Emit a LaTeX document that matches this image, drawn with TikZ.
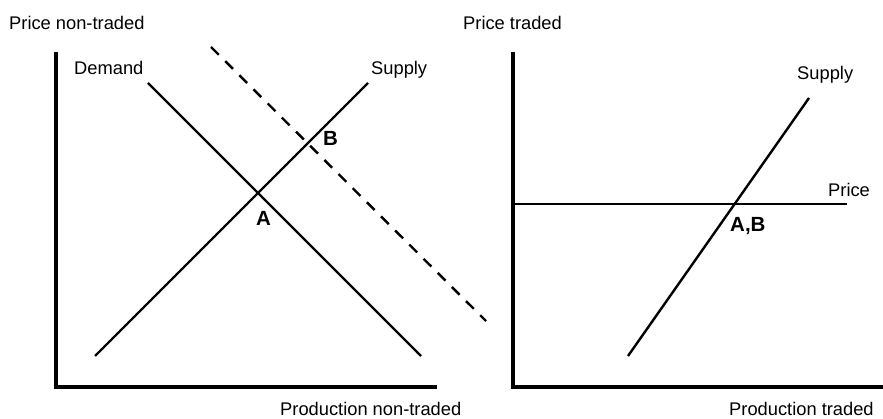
\documentclass[tikz,border=0pt]{standalone}
\usepackage{fontspec}
\setmainfont{Liberation Sans}
\usetikzlibrary{positioning, calc}

\begin{document}
\begin{tikzpicture}[x=1pt, y=-1pt,
  axisline/.style={line width=3.2pt},
  curve/.style={line width=2.4pt},
  shifted/.style={line width=2.4pt, dash pattern=on 11pt off 9pt},
  lbl/.style={font=\fontsize{18.3}{22}\selectfont, inner sep=0pt, anchor=base west},
  eq/.style={font=\fontsize{20.5}{24}\selectfont\bfseries, inner sep=0pt, anchor=base west}]
  \useasboundingbox (0,0) rectangle (883,419);

  % non-traded market
  \coordinate (ntop) at (56,52);
  \coordinate (norig) at (56,387);
  \coordinate (nend) at (437,387);
  \coordinate (dem1) at (148,83);
  \coordinate (dem2) at (421,356);
  \coordinate (sup1) at (95,356);
  \coordinate (sup2) at (368,83);
  \coordinate (newdem1) at (211,47);
  \coordinate (newdem2) at (486,321);
  \draw[axisline] (ntop) -- (norig) -- (nend);
  \draw[curve] (dem1) -- (dem2);
  \draw[curve] (sup1) -- (sup2);
  \draw[shifted] (newdem1) -- (newdem2);

  \node[lbl] (nprice) at (9,30) {Price non-traded};
  \node[lbl] (nprod) at (280,415) {Production non-traded};
  \node[lbl] (demlbl) at (74,75) {Demand};
  \node[lbl] (suplbl) at (371,75) {Supply};
  \node[eq] (ptA) at (256,226) {A};
  \node[eq] (ptB) at (323,146) {B};

  % traded market
  \coordinate (ttop) at (513,52);
  \coordinate (torig) at (513,387);
  \coordinate (tend) at (883,387);
  \coordinate (pr1) at (513,204);
  \coordinate (pr2) at (847,204);
  \coordinate (tsup1) at (628,356);
  \coordinate (tsup2) at (809,98);
  \draw[axisline] (ttop) -- (torig) -- (tend);
  \draw[curve] (pr1) -- (pr2);
  \draw[curve] (tsup1) -- (tsup2);

  \node[lbl] (tprice) at (463,30) {Price traded};
  \node[lbl] (tprod) at (729,415) {Production traded};
  \node[lbl] (tsuplbl) at (797,80) {Supply};
  \node[lbl] (prlbl) at (828,197) {Price};
  \node[eq] (ptAB) at (730,232) {A,B};
\end{tikzpicture}
\end{document}
